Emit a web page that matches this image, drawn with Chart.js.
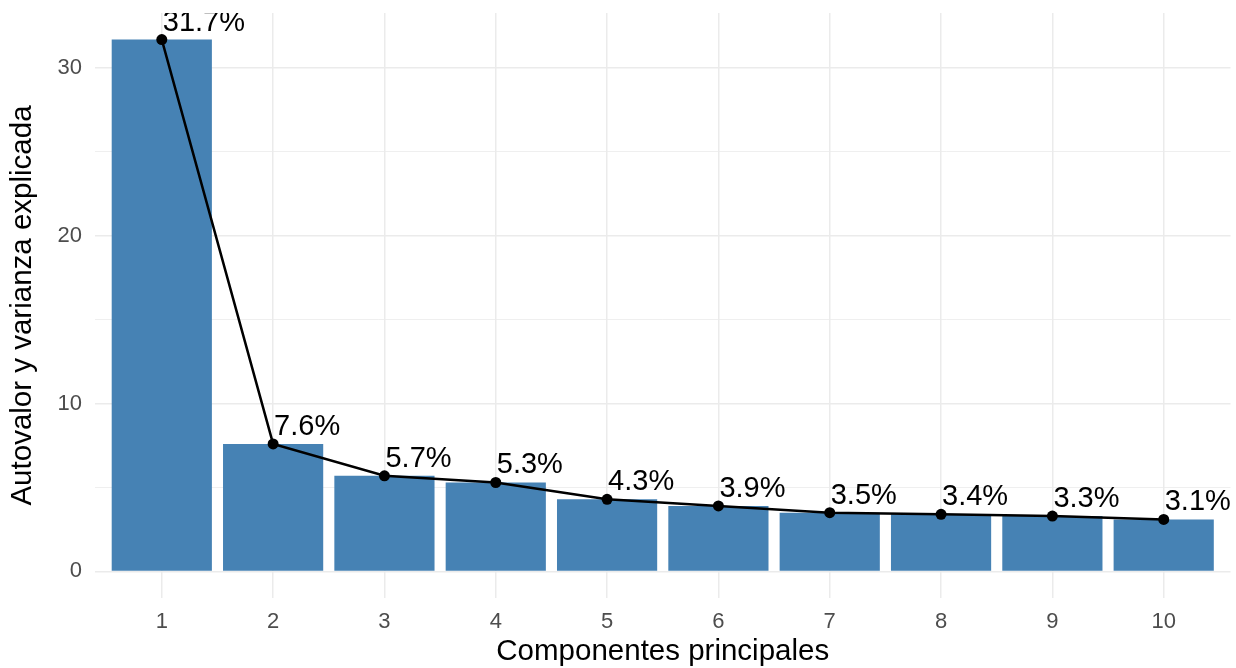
<!DOCTYPE html>
<html>
<head>
<meta charset="utf-8">
<script src="https://cdn.jsdelivr.net/npm/chart.js@4.4.1/dist/chart.umd.min.js"></script>
<style>
html,body{margin:0;padding:0;background:#fff;}
canvas{display:block;}
</style>
</head>
<body>
<canvas id="c" width="1236" height="668"></canvas>
<script>
const components = [1, 2, 3, 4, 5, 6, 7, 8, 9, 10];
const variance = [31.7, 7.6, 5.7, 5.3, 4.3, 3.9, 3.5, 3.4, 3.3, 3.1];
const valueLabels = ['31.7%', '7.6%', '5.7%', '5.3%', '4.3%', '3.9%', '3.5%', '3.4%', '3.3%', '3.1%'];
const yTicks = [0, 5, 10, 15, 20, 25, 30];
const yLabelTicks = [0, 10, 20, 30];

const FONT = "'Liberation Sans', Arial, Helvetica, sans-serif";

const labelPlugin = {
  id: 'pctLabels',
  afterDatasetsDraw(chart) {
    const {ctx, chartArea, scales} = chart;
    ctx.save();
    ctx.beginPath();
    ctx.rect(chartArea.left, chartArea.top, chartArea.right - chartArea.left, chartArea.bottom - chartArea.top);
    ctx.clip();
    ctx.fillStyle = '#000';
    ctx.font = '29px ' + FONT;
    ctx.textAlign = 'left';
    ctx.textBaseline = 'alphabetic';
    components.forEach((c, i) => {
      const x = scales.x.getPixelForValue(c);
      const y = scales.y.getPixelForValue(variance[i]);
      ctx.fillText(valueLabels[i], x + 1, y - 9);
    });
    ctx.restore();
  }
};

const pts = components.map((c, i) => ({x: c, y: variance[i]}));

new Chart(document.getElementById('c'), {
  data: {
    datasets: [
      {
        type: 'line',
        data: pts,
        borderColor: '#000',
        borderWidth: 2.5,
        pointBackgroundColor: '#000',
        pointBorderColor: '#000',
        pointRadius: 5.5,
        pointBorderWidth: 0,
        tension: 0,
        order: 1
      },
      {
        type: 'bar',
        data: pts,
        backgroundColor: '#4682B4',
        borderWidth: 0,
        barPercentage: 0.9,
        categoryPercentage: 1.0,
        order: 2
      }
    ]
  },
  options: {
    responsive: false,
    animation: false,
    devicePixelRatio: 1,
    layout: {padding: {top: 0, right: 4, left: 0, bottom: 0}},
    plugins: {legend: {display: false}, tooltip: {enabled: false}},
    scales: {
      x: {
        type: 'linear',
        min: 0.4,
        max: 10.6,
        offset: false,
        afterBuildTicks(axis) { axis.ticks = components.map(v => ({value: v})); },
        afterFit(axis) { axis.height = 70; },
        grid: {color: '#EBEBEB', lineWidth: 1.5, drawTicks: false, offset: false},
        border: {display: false},
        ticks: {
          padding: 11,
          color: '#4D4D4D',
          font: {family: FONT, size: 22},
          autoSkip: false,
          maxRotation: 0,
          callback: v => String(v)
        },
        title: {
          display: true,
          text: 'Componentes principales',
          color: '#000',
          font: {family: FONT, size: 29.5, lineHeight: 1},
          padding: {top: 0, bottom: 1}
        }
      },
      y: {
        type: 'linear',
        min: -1.585,
        max: 33.285,
        afterBuildTicks(axis) { axis.ticks = yTicks.map(v => ({value: v})); },
        afterFit(axis) { axis.width = 95; axis.paddingTop = 13; axis.paddingBottom = 0; },
        grid: {
          color: '#EBEBEB',
          lineWidth: ctx => (ctx.tick && yLabelTicks.includes(ctx.tick.value)) ? 1.5 : 0.8,
          drawTicks: false
        },
        border: {display: false},
        ticks: {
          padding: 13,
          color: '#4D4D4D',
          font: {family: FONT, size: 22},
          callback: v => yLabelTicks.includes(v) ? String(v) : ''
        },
        title: {
          display: true,
          text: 'Autovalor y varianza explicada',
          color: '#000',
          font: {family: FONT, size: 29.5, lineHeight: 1},
          padding: {top: 8, bottom: 0}
        }
      }
    }
  },
  plugins: [labelPlugin]
});
</script>
</body>
</html>
